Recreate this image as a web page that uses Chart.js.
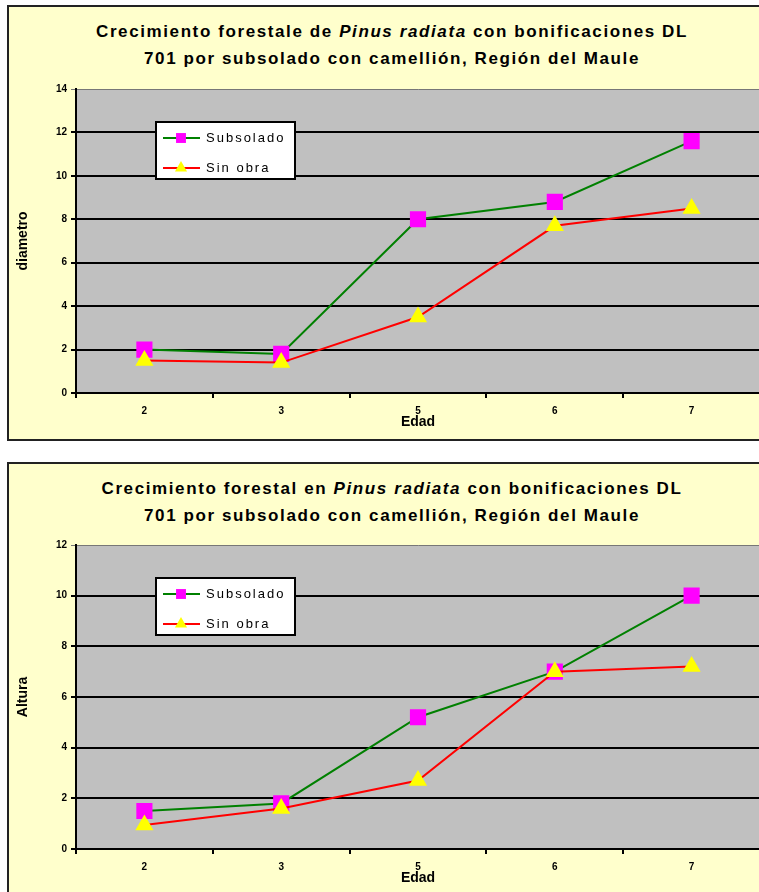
<!DOCTYPE html>
<html>
<head>
<meta charset="utf-8">
<script src="https://cdn.jsdelivr.net/npm/chart.js@4.4.1/dist/chart.umd.min.js"></script>
<style>
  body { margin:0; background:#fff; width:759px; height:892px; overflow:hidden; position:relative; font-family:"Liberation Sans", Arial, sans-serif; }
  .panel { position:absolute; left:7px; width:770px; height:436px; box-sizing:border-box; border:2px solid #222; background:#ffffcc; }
  #panel1 { top:5px; }
  #panel2 { top:462px; }
  .titulo { position:absolute; left:0; top:11px; width:766px; text-align:center; font-weight:bold; font-size:17px; line-height:27px; letter-spacing:1.6px; color:#000; }
  .panel canvas { position:absolute; left:0; top:0; }
</style>
</head>
<body>
<div class="panel" id="panel1">
  <div class="titulo">Crecimiento forestale de <i>Pinus radiata</i> con bonificaciones DL<br>701 por subsolado con camellión, Región del Maule</div>
  <canvas id="grafico1" width="766" height="432"></canvas>
</div>
<div class="panel" id="panel2">
  <div class="titulo">Crecimiento forestal en <i>Pinus radiata</i> con bonificaciones DL<br>701 por subsolado con camellión, Región del Maule</div>
  <canvas id="grafico2" width="766" height="432"></canvas>
</div>
<script>
// datos
const edades = ['2', '3', '5', '6', '7'];
const seriesNombres = ['Subsolado', 'Sin obra'];

// diametro
const diametroSubsolado = [2.0, 1.8, 8.0, 8.8, 11.6];
const diametroSinObra = [1.5, 1.4, 3.5, 7.7, 8.5];

// altura
const alturaSubsolado = [1.5, 1.8, 5.2, 7.0, 10.0];
const alturaSinObra = [0.95, 1.6, 2.7, 7.0, 7.2];

Chart.defaults.font.family = '"Liberation Sans", Arial, sans-serif';
Chart.defaults.color = '#000';

// fondo gris del area de trazado
const fondoPlot = {
  id: 'fondoPlot',
  beforeDraw(chart) {
    const { ctx, chartArea: a } = chart;
    ctx.save();
    ctx.fillStyle = '#c0c0c0';
    ctx.fillRect(a.left, a.top, a.right - a.left, a.bottom - a.top);
    ctx.restore();
  }
};

// leyenda tipo Excel dentro del area
const leyenda = {
  id: 'leyenda',
  afterDraw(chart, args, opts) {
    const { ctx, chartArea: a } = chart;
    const x = a.left + opts.dx, y = a.top + opts.dy;
    ctx.save();
    ctx.fillStyle = '#fff';
    ctx.fillRect(x, y, opts.w, opts.h);
    ctx.strokeStyle = '#000';
    ctx.lineWidth = 2;
    ctx.strokeRect(x, y, opts.w, opts.h);
    ctx.font = '13px "Liberation Sans", Arial, sans-serif';
    ctx.letterSpacing = '2px';
    ctx.textBaseline = 'middle';
    chart.data.datasets.forEach((ds, i) => {
      const cy = y + opts.fila0 + i * opts.paso;
      ctx.strokeStyle = ds.borderColor;
      ctx.lineWidth = 2;
      ctx.beginPath();
      ctx.moveTo(x + 7, cy);
      ctx.lineTo(x + 44, cy);
      ctx.stroke();
      ctx.fillStyle = ds.pointBackgroundColor;
      Chart.helpers.drawPoint(ctx, { pointStyle: ds.pointStyle, radius: ds.pointStyle === 'rect' ? 7 : 7, borderWidth: 0, rotation: 0 }, x + 25, cy);
      ctx.fillStyle = '#000';
      ctx.fillText(ds.label, x + 50, cy);
    });
    ctx.restore();
  }
};

function crearGrafico(id, serieA, serieB, maximo, tituloY, padTop, padBottom, legTop) {
  const canvas = document.getElementById(id);
  return new Chart(canvas.getContext('2d'), {
    type: 'line',
    data: {
      labels: edades,
      datasets: [{
        label: seriesNombres[0],
        data: serieA,
        borderColor: '#008000',
        borderWidth: 2,
        pointStyle: 'rect',
        pointRadius: 10,
        pointBackgroundColor: '#ff00ff',
        pointBorderColor: '#ff00ff',
        fill: false,
        tension: 0,
        order: 1
      }, {
        label: seriesNombres[1],
        data: serieB,
        borderColor: '#ff0000',
        borderWidth: 2,
        pointStyle: 'triangle',
        pointRadius: 8.5,
        pointBackgroundColor: '#ffff00',
        pointBorderColor: '#ffff00',
        fill: false,
        tension: 0,
        order: 0
      }]
    },
    options: {
      responsive: false,
      animation: false,
      layout: { padding: { top: padTop, bottom: padBottom, left: 0, right: 15 } },
      plugins: {
        legend: { display: false },
        tooltip: { enabled: false },
        leyenda: { dx: 80, dy: legTop, w: 139, h: 57, fila0: 16, paso: 30 }
      },
      scales: {
        x: {
          offset: true,
          afterFit(scale) { scale.height = 40; },
          grid: { offset: true, drawOnChartArea: false, drawTicks: true, tickLength: 5, color: '#000', lineWidth: 2 },
          border: { color: '#000', width: 2 },
          ticks: { font: { size: 10, weight: 'bold' }, padding: 7, maxRotation: 0 },
          title: { display: true, text: 'Edad', font: { size: 14, weight: 'bold' }, padding: { top: 0, bottom: 2 } }
        },
        y: {
          min: 0,
          max: maximo,
          afterFit(scale) { scale.width = 67; },
          grid: {
            color: c => c.tick && c.tick.value === maximo ? '#777' : '#000',
            lineWidth: c => c.tick && c.tick.value === maximo ? 1 : 2,
            tickLength: 5
          },
          border: { color: '#000', width: 2 },
          ticks: { stepSize: 2, font: { size: 10, weight: 'bold' }, padding: 4 },
          title: { display: true, text: tituloY, font: { size: 14, weight: 'bold' }, padding: { top: 6, bottom: 0 } }
        }
      }
    },
    plugins: [fondoPlot, leyenda]
  });
}

crearGrafico('grafico1', diametroSubsolado, diametroSinObra, 14, 'diametro', 82, 6, 33);
crearGrafico('grafico2', alturaSubsolado, alturaSinObra, 12, 'Altura', 81, 7, 33);
</script>
</body>
</html>
